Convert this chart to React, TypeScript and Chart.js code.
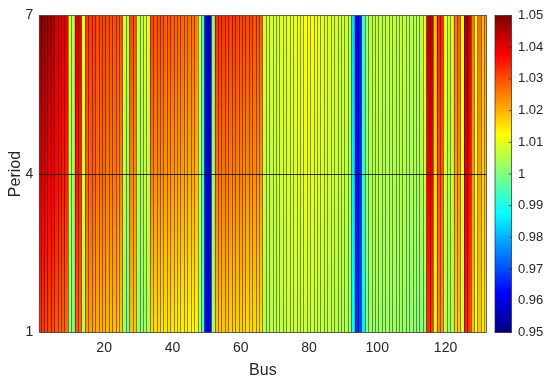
import React, { useEffect, useRef } from 'react';
import { Chart, registerables } from 'chart.js';

Chart.register(...registerables);

// Bus numbers (categories on the x axis)
const buses: number[] = Array.from({ length: 132 }, (_, i) => i + 1);

// Voltage magnitude (p.u.) per bus at period 7 (top), 4 (middle), 1 (bottom)
const period7: number[] = [
  1.049, 1.048, 1.047, 1.047, 1.046, 1.042, 1.041, 1.040, 1.040,
  1.009, 1.005, 1.040, 1.039, 1.011,
  1.032, 1.032, 1.032, 1.031, 1.031, 1.031, 1.031, 1.030, 1.030, 1.030, 1.030,
  1.009, 1.006,
  1.031, 1.030,
  1.008, 1.006, 1.009, 1.010,
  1.031, 1.030, 1.030, 1.030, 1.029, 1.029, 1.029, 1.028, 1.028, 1.028, 1.027, 1.027, 1.027, 1.026,
  1.010, 0.993, 0.958, 0.959, 1.001,
  1.033, 1.033, 1.033, 1.032, 1.032, 1.032, 1.032, 1.031, 1.031, 1.031, 1.031, 1.030, 1.030, 1.029,
  1.009, 1.009, 1.008, 1.009, 1.008, 1.009, 1.009, 1.010, 1.010, 1.010, 1.011, 1.011, 1.012,
  1.012, 1.012, 1.011, 1.011, 1.010, 1.010, 1.009, 1.009, 1.008, 1.008, 1.008, 1.007, 1.006,
  0.984, 0.962, 0.964, 0.992,
  1.004, 1.005, 1.006, 1.007, 1.006, 1.007, 1.006, 1.007, 1.006, 1.006, 1.007, 1.006, 1.006,
  1.005, 1.006, 1.005, 1.006,
  1.012, 1.044, 1.043, 1.018, 1.035, 1.034, 1.012, 1.007, 1.010, 1.026, 1.028, 1.012, 1.046,
  1.044, 1.026, 1.013, 1.027, 1.020, 1.022,
];

const period4: number[] = [
  1.041, 1.040, 1.040, 1.039, 1.039, 1.037, 1.036, 1.035, 1.035,
  1.006, 1.003, 1.035, 1.034, 1.009,
  1.028, 1.028, 1.028, 1.027, 1.027, 1.027, 1.026, 1.026, 1.026, 1.025, 1.025,
  1.006, 1.003,
  1.025, 1.024,
  1.006, 1.004, 1.006, 1.007,
  1.025, 1.024, 1.024, 1.024, 1.023, 1.023, 1.023, 1.022, 1.022, 1.022, 1.021, 1.021, 1.021, 1.020,
  1.008, 0.993, 0.959, 0.960, 1.002,
  1.026, 1.026, 1.026, 1.026, 1.025, 1.025, 1.025, 1.025, 1.024, 1.024, 1.024, 1.024, 1.023, 1.023,
  1.007, 1.007, 1.006, 1.007, 1.007, 1.008, 1.008, 1.008, 1.009, 1.009, 1.009, 1.010, 1.010,
  1.010, 1.010, 1.009, 1.009, 1.009, 1.008, 1.008, 1.008, 1.007, 1.007, 1.007, 1.006, 1.005,
  0.986, 0.964, 0.966, 0.992,
  1.003, 1.004, 1.005, 1.005, 1.005, 1.005, 1.004, 1.005, 1.005, 1.004, 1.005, 1.005, 1.004,
  1.004, 1.005, 1.004, 1.004,
  1.009, 1.039, 1.038, 1.015, 1.030, 1.029, 1.009, 1.005, 1.007, 1.022, 1.023, 1.010, 1.040,
  1.038, 1.023, 1.011, 1.022, 1.017, 1.018,
];

const period1: number[] = [
  1.032, 1.032, 1.031, 1.031, 1.030, 1.029, 1.028, 1.028, 1.027,
  1.002, 0.999, 1.028, 1.027, 1.005,
  1.022, 1.022, 1.021, 1.021, 1.020, 1.020, 1.020, 1.019, 1.019, 1.019, 1.018,
  1.002, 0.999,
  1.019, 1.018,
  1.003, 1.001, 1.003, 1.004,
  1.016, 1.016, 1.016, 1.015, 1.015, 1.015, 1.015, 1.014, 1.014, 1.014, 1.014, 1.013, 1.013, 1.013,
  1.006, 0.994, 0.961, 0.962, 1.003,
  1.018, 1.018, 1.018, 1.018, 1.017, 1.017, 1.017, 1.017, 1.017, 1.016, 1.016, 1.016, 1.016, 1.016,
  1.005, 1.005, 1.005, 1.006, 1.006, 1.006, 1.006, 1.007, 1.007, 1.007, 1.007, 1.007, 1.007,
  1.007, 1.007, 1.007, 1.006, 1.006, 1.006, 1.006, 1.006, 1.005, 1.005, 1.005, 1.004, 1.004,
  0.988, 0.967, 0.969, 0.986,
  1.001, 1.002, 1.003, 1.003, 1.002, 1.003, 1.003, 1.002, 1.003, 1.002, 1.003, 1.002, 1.002,
  1.001, 1.002, 1.001, 1.000,
  1.002, 1.033, 1.032, 1.012, 1.024, 1.023, 1.006, 1.003, 1.004, 1.017, 1.018, 1.008, 1.034,
  1.032, 1.019, 1.010, 1.018, 1.014, 1.014,
];

const periodNodes: number[] = [1, 4, 7];
const xTickLabels: number[] = [20, 40, 60, 80, 100, 120];
const yTickLabels: number[] = [1, 4, 7];
const cbTicks: number[] = [0.95, 0.96, 0.97, 0.98, 0.99, 1.0, 1.01, 1.02, 1.03, 1.04, 1.05];
const cMin = 0.95;
const cMax = 1.05;

const FONT = "'Liberation Sans', Arial, Helvetica, sans-serif";
const TEXT = '#262626';

function clamp01(v: number) {
  return Math.max(0, Math.min(1, v));
}
function jet(t: number): string {
  t = clamp01(t);
  const r = clamp01(Math.min(4 * t - 1.5, -4 * t + 4.5));
  const g = clamp01(Math.min(4 * t - 0.5, -4 * t + 3.5));
  const b = clamp01(Math.min(4 * t + 0.5, -4 * t + 2.5));
  return `rgb(${Math.round(r * 255)},${Math.round(g * 255)},${Math.round(b * 255)})`;
}
function valueColor(v: number) {
  return jet((v - cMin) / (cMax - cMin));
}

const colorbarPlugin = {
  id: 'colorbarAndBox',
  afterDraw(chart: any) {
    const ctx = chart.ctx as CanvasRenderingContext2D;
    const area = chart.chartArea;
    ctx.save();
    ctx.strokeStyle = 'rgba(38,38,38,0.85)';
    ctx.lineWidth = 0.8;
    ctx.strokeRect(area.left, area.top, area.right - area.left, area.bottom - area.top);
    ctx.restore();

    const s = chart.scales.cb;
    const x0 = s.left + 8.5;
    const w = 16.5;
    const top = s.getPixelForValue(cMax);
    const bot = s.getPixelForValue(cMin);
    const g = ctx.createLinearGradient(0, bot, 0, top);
    const n = 64;
    for (let k = 0; k <= n; k++) g.addColorStop(k / n, jet(k / n));
    ctx.save();
    ctx.fillStyle = g;
    ctx.fillRect(x0, top, w, bot - top);
    ctx.strokeStyle = 'rgba(38,38,38,0.85)';
    ctx.lineWidth = 0.8;
    ctx.strokeRect(x0, top, w, bot - top);
    ctx.beginPath();
    for (const v of cbTicks) {
      const y = s.getPixelForValue(v);
      ctx.moveTo(x0 + w - 3, y);
      ctx.lineTo(x0 + w, y);
    }
    ctx.stroke();
    ctx.restore();
  },
};

export default function App() {
  const ref = useRef<HTMLCanvasElement>(null);

  useEffect(() => {
    document.body.style.margin = '0';
    const gradCache: Record<number, CanvasGradient> = {};
    const chart = new Chart(ref.current as HTMLCanvasElement, {
      type: 'bar',
      data: {
        datasets: [
          {
            data: buses.map((b) => ({ x: b, y: [periodNodes[0], periodNodes[2]] })) as any,
            barPercentage: 1,
            categoryPercentage: 1,
            borderWidth: 0,
            backgroundColor: (c: any) => {
              if (c.type !== 'data') return 'rgba(0,0,0,0)';
              const chartObj = c.chart;
              const ys = chartObj.scales.y;
              if (!ys || !chartObj.chartArea) return 'rgba(0,0,0,0)';
              const i = c.dataIndex;
              if (gradCache[i]) return gradCache[i];
              const yB = ys.getPixelForValue(periodNodes[0]);
              const yT = ys.getPixelForValue(periodNodes[2]);
              const grad = chartObj.ctx.createLinearGradient(0, yB, 0, yT);
              const vB = period1[i];
              const vM = period4[i];
              const vT = period7[i];
              const steps = 12;
              for (let k = 0; k <= steps; k++) {
                const f = k / steps;
                const v = f <= 0.5 ? vB + (vM - vB) * (f / 0.5) : vM + (vT - vM) * ((f - 0.5) / 0.5);
                grad.addColorStop(f, valueColor(v));
              }
              gradCache[i] = grad;
              return grad;
            },
          } as any,
        ],
      },
      options: {
        animation: false,
        responsive: true,
        maintainAspectRatio: false,
        layout: { padding: { top: 15.5, right: 0, bottom: 0, left: 0 } },
        plugins: { legend: { display: false }, tooltip: { enabled: false } },
        scales: {
          x: {
            type: 'linear',
            position: 'bottom',
            min: 1,
            max: 132,
            offset: false,
            afterBuildTicks: (s: any) => {
              s.ticks = buses.map((v) => ({ value: v }));
            },
            afterFit: (s: any) => {
              s.height = 50.5;
              s.paddingLeft = 0;
              s.paddingRight = 0;
            },
            ticks: {
              autoSkip: false,
              maxRotation: 0,
              minRotation: 0,
              padding: 7,
              color: TEXT,
              font: { family: FONT, size: 14 },
              callback: (v: any) => (xTickLabels.includes(Number(v)) ? String(v) : ''),
            },
            grid: {
              z: 1,
              color: 'rgba(0,0,0,0.55)',
              lineWidth: 0.8,
              drawTicks: false,
            },
            border: { display: false },
            title: {
              display: true,
              text: 'Bus',
              color: TEXT,
              font: { family: FONT, size: 16 },
              padding: { top: 0, bottom: 3 },
            },
          },
          y: {
            type: 'linear',
            min: 1,
            max: 7,
            afterBuildTicks: (s: any) => {
              s.ticks = yTickLabels.map((v) => ({ value: v }));
            },
            afterFit: (s: any) => {
              s.width = 39.3;
              s.paddingTop = 0;
              s.paddingBottom = 0;
            },
            ticks: {
              padding: 6,
              color: TEXT,
              font: { family: FONT, size: 14 },
            },
            grid: {
              z: 1,
              drawTicks: false,
              lineWidth: 1,
              color: (c: any) => (c.tick && c.tick.value === 4 ? 'rgba(0,0,0,0.8)' : 'rgba(0,0,0,0)'),
            },
            border: { display: false },
            title: {
              display: true,
              text: 'Period',
              color: TEXT,
              font: { family: FONT, size: 16 },
              padding: { top: 6, bottom: 0 },
            },
          },
          cb: {
            type: 'linear',
            position: 'right',
            min: cMin,
            max: cMax,
            afterBuildTicks: (s: any) => {
              s.ticks = cbTicks.map((v) => ({ value: v }));
            },
            afterFit: (s: any) => {
              s.width = 63.5;
              s.paddingTop = 0;
              s.paddingBottom = 0;
            },
            ticks: {
              padding: 31.5,
              color: TEXT,
              font: { family: FONT, size: 13 },
              callback: (v: any) => String(Number(Number(v).toFixed(2))),
            },
            grid: { display: false, drawTicks: false },
            border: { display: false },
          },
        } as any,
      },
      plugins: [colorbarPlugin],
    });
    return () => chart.destroy();
  }, []);

  return (
    <div style={{ position: 'fixed', left: 0, top: 0, width: 550, height: 383, background: '#fff' }}>
      <canvas ref={ref} />
    </div>
  );
}
